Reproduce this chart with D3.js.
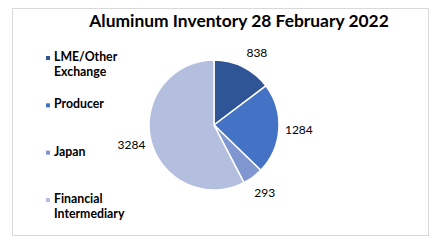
<!DOCTYPE html>
<html>
<head>
<meta charset="utf-8">
<script src="https://cdn.jsdelivr.net/npm/d3@7"></script>
<style>
  body { margin: 0; background: #fff; }
  text { font-family: Lato, "Open Sans", sans-serif; fill: #000; }
</style>
</head>
<body>
<script>
const categories = ["LME/Other Exchange", "Producer", "Japan", "Financial Intermediary"];
const legendLines = [["LME/Other", "Exchange"], ["Producer"], ["Japan"], ["Financial", "Intermediary"]];
const values = [838, 1284, 293, 3284];
const colors = ["#2F5597", "#4472C4", "#7F96D1", "#B4BFDF"];

const w = 437, h = 246;
const cx = 214, cy = 125, r = 65, labelR = 85;

const svg = d3.select("body").append("svg")
  .attr("width", w)
  .attr("height", h);

// chart frame
svg.append("rect")
  .attr("x", 12.5).attr("y", 8.5)
  .attr("width", 416).attr("height", 227)
  .attr("fill", "#fff")
  .attr("stroke", "#d9d9d9");

svg.append("text")
  .attr("x", 239).attr("y", 27)
  .attr("text-anchor", "middle")
  .style("font-size", "17.4px")
  .style("font-weight", "bold")
  .text("Aluminum Inventory 28 February 2022");

const pie = d3.pie().sort(null).value(d => d);
const arcs = pie(values);
const arc = d3.arc().innerRadius(0).outerRadius(r);
const labelArc = d3.arc().innerRadius(labelR).outerRadius(labelR);

const g = svg.append("g").attr("transform", `translate(${cx},${cy})`);

g.selectAll("path")
  .data(arcs)
  .enter()
  .append("path")
  .attr("d", arc)
  .attr("fill", (d, i) => colors[i])
  .attr("stroke", "#fff")
  .attr("stroke-width", 1.5);

g.selectAll("text.lbl")
  .data(arcs)
  .enter()
  .append("text")
  .attr("class", "lbl")
  .attr("transform", d => {
    const [x, y] = labelArc.centroid(d);
    // nudge the top label a little to the right, as the reference does
    return `translate(${x + (y < -60 ? 5 : 0)},${y + (y < -60 ? 4 : 0)})`;
  })
  .attr("text-anchor", "middle")
  .attr("dy", "0.35em")
  .style("font-size", "12px")
  .text(d => d.data);

// legend
const legendY = d3.scalePoint()
  .domain(categories)
  .range([57, 199]);

const legend = svg.append("g");
const item = legend.selectAll("g")
  .data(categories)
  .enter()
  .append("g")
  .attr("transform", d => `translate(46,${legendY(d)})`);

item.append("rect")
  .attr("x", 0).attr("y", -1)
  .attr("width", 4).attr("height", 4)
  .attr("fill", (d, i) => colors[i]);

item.append("text")
  .attr("x", 8)
  .attr("y", 4)
  .style("font-size", "12.3px")
  .style("font-weight", "bold")
  .selectAll("tspan")
  .data((d, i) => legendLines[i])
  .enter()
  .append("tspan")
  .attr("x", 8)
  .attr("dy", (d, i) => i ? 15 : 0)
  .text(d => d);
</script>
</body>
</html>
